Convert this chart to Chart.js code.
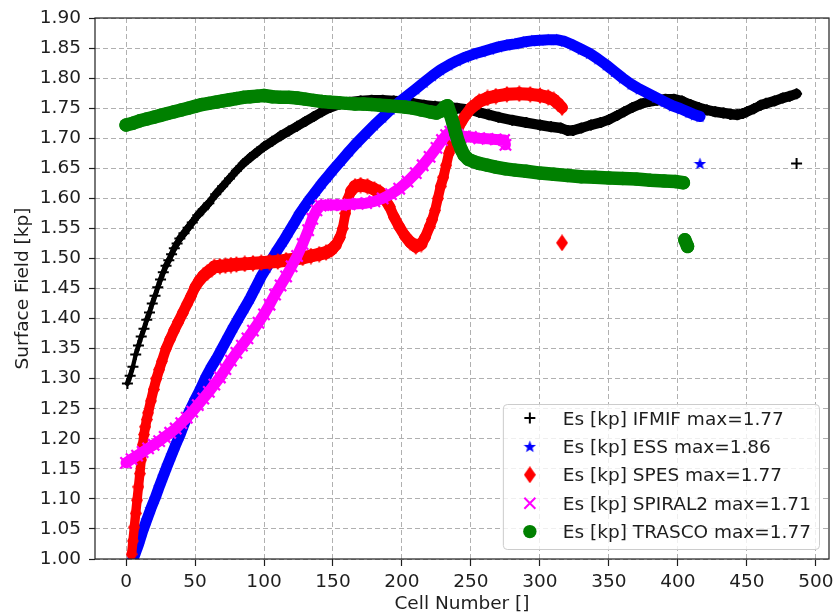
<!DOCTYPE html>
<html>
<head>
<meta charset="utf-8">
<title>Surface field per cell</title>
<script src="https://cdn.jsdelivr.net/npm/chart.js@4.4.1/dist/chart.umd.min.js"></script>
<style>
  html, body { margin: 0; padding: 0; background: #fff; }
  #wrap { width: 833px; height: 615px; }
</style>
</head>
<body>
<div id="wrap"><canvas id="es" width="833" height="615"></canvas></div>
<script>
// Surface field Es [kp] along the cells of five RFQ designs.

const X_TICKS = [0, 50, 100, 150, 200, 250, 300, 350, 400, 450, 500];
const Y_TICKS = [1.00, 1.05, 1.10, 1.15, 1.20, 1.25, 1.30, 1.35, 1.40, 1.45, 1.50,
                 1.55, 1.60, 1.65, 1.70, 1.75, 1.80, 1.85, 1.90];

const IFMIF_CELL = [1,3,5,7,9,11,13,15,17,19,21,23,25,27,29,31,33,35,37,39,42,45,48,52,56,60,65,70,75,80,
  85,90,95,100,106,112,118,124,130,136,142,148,155,162,170,178,186,194,200,208,216,224,232,240,250,256,263,270,280,290,
  300,308,315,320,324,330,337,344,350,356,361,367,373,379,385,391,397,403,409,415,421,427,433,438,443,447,450,455,460,464,
  470,476,481,486,486];
const IFMIF_ES = [1.292,1.305,1.32,1.34,1.355,1.37,1.383,1.398,1.41,1.425,1.438,1.452,1.465,1.477,1.488,1.497,1.507,1.517,1.525,1.533,
  1.542,1.551,1.56,1.572,1.582,1.592,1.607,1.62,1.633,1.646,1.658,1.668,1.677,1.686,1.695,1.704,1.712,1.72,1.728,1.736,
  1.744,1.751,1.757,1.76,1.762,1.763,1.763,1.762,1.761,1.758,1.755,1.753,1.752,1.75,1.747,1.743,1.739,1.735,1.73,1.726,
  1.722,1.719,1.717,1.713,1.713,1.717,1.722,1.726,1.731,1.738,1.744,1.751,1.757,1.761,1.763,1.765,1.765,1.762,1.756,1.751,
  1.747,1.744,1.742,1.74,1.739,1.741,1.744,1.749,1.755,1.758,1.762,1.767,1.77,1.774,1.658];

const ESS_CELL = [4,6,9,12,15,18,21,24,27,30,33,36,39,42,46,50,54,58,62,66,70,74,78,82,86,90,94,98,102,106,
  110,114,118,122,126,130,134,138,142,146,150,156,162,168,174,180,186,192,198,204,210,216,222,228,234,240,246,252,258,264,
  270,276,282,288,294,300,306,312,318,324,330,336,342,348,354,360,366,372,378,384,390,396,402,408,412,416,416];
const ESS_ES = [0.995,1.005,1.024,1.046,1.065,1.084,1.101,1.12,1.138,1.156,1.173,1.19,1.206,1.224,1.246,1.265,1.283,1.303,1.32,1.335,
  1.352,1.369,1.386,1.402,1.418,1.434,1.452,1.47,1.485,1.5,1.515,1.529,1.544,1.559,1.575,1.588,1.601,1.613,1.625,1.636,
  1.647,1.663,1.679,1.694,1.708,1.722,1.735,1.748,1.76,1.771,1.782,1.793,1.804,1.814,1.822,1.829,1.835,1.84,1.844,1.848,
  1.852,1.855,1.857,1.86,1.862,1.863,1.864,1.864,1.861,1.855,1.848,1.841,1.832,1.822,1.811,1.8,1.79,1.782,1.775,1.768,
  1.761,1.754,1.749,1.743,1.739,1.736,1.658];

const SPES_CELL = [4,5,6,7,8,9,10,11,12,13,14,15,16,18,20,22,24,26,29,32,35,38,41,44,47,50,53,56,59,62,
  64,68,72,76,80,86,92,98,104,110,116,122,128,134,140,145,149,152,155,157,159,161,163,166,170,175,180,184,188,191,
  194,198,202,206,210,214,217,220,222,224,226,228,230,232,234,237,240,243,246,250,256,262,268,276,285,293,300,306,310,313,
  316,316];
const SPES_ES = [1.008,1.03,1.053,1.076,1.098,1.12,1.142,1.165,1.19,1.207,1.22,1.232,1.243,1.263,1.282,1.3,1.315,1.329,1.35,1.366,
  1.381,1.395,1.409,1.423,1.437,1.452,1.463,1.471,1.477,1.482,1.486,1.487,1.488,1.489,1.49,1.491,1.492,1.493,1.494,1.495,
  1.497,1.499,1.501,1.504,1.507,1.51,1.515,1.522,1.535,1.55,1.575,1.6,1.612,1.62,1.622,1.62,1.615,1.61,1.597,1.586,
  1.57,1.553,1.538,1.527,1.52,1.524,1.536,1.553,1.565,1.58,1.6,1.62,1.635,1.655,1.675,1.695,1.712,1.727,1.738,1.75,
  1.761,1.767,1.77,1.773,1.774,1.773,1.771,1.768,1.764,1.758,1.751,1.526];

const SPIRAL2_CELL = [0,4,8,12,16,20,24,28,32,36,40,44,48,52,56,60,64,68,72,76,80,84,88,92,96,100,104,108,112,116,
  120,124,128,132,135,138,141,145,150,156,162,168,174,180,186,192,198,204,210,215,220,225,229,232,235,240,245,250,256,262,
  268,274,275];
const SPIRAL2_ES = [1.16,1.166,1.172,1.178,1.184,1.19,1.196,1.203,1.21,1.217,1.226,1.235,1.245,1.256,1.267,1.278,1.29,1.302,1.316,1.33,
  1.343,1.355,1.367,1.38,1.393,1.407,1.423,1.44,1.455,1.47,1.487,1.504,1.524,1.547,1.566,1.58,1.588,1.589,1.589,1.589,
  1.59,1.591,1.592,1.595,1.6,1.607,1.616,1.628,1.642,1.655,1.669,1.684,1.697,1.705,1.711,1.706,1.703,1.702,1.7,1.699,
  1.698,1.697,1.689];

const TRASCO_CELL = [0,5,10,15,20,25,30,35,40,45,50,55,60,65,70,75,80,85,90,95,100,106,112,118,124,130,136,142,148,154,
  160,166,172,178,184,190,196,202,208,214,220,225,228,231,233,235,237,239,241,243,245,248,252,256,262,268,275,282,290,300,
  310,320,330,340,350,360,370,380,390,398,404,405,407];
const TRASCO_ES = [1.722,1.725,1.729,1.732,1.735,1.738,1.741,1.744,1.747,1.75,1.753,1.756,1.758,1.76,1.762,1.764,1.766,1.768,1.769,1.77,
  1.771,1.769,1.768,1.768,1.767,1.765,1.763,1.761,1.76,1.759,1.758,1.757,1.757,1.756,1.755,1.754,1.753,1.752,1.75,1.747,
  1.744,1.742,1.745,1.752,1.754,1.74,1.725,1.708,1.693,1.681,1.672,1.665,1.661,1.658,1.655,1.652,1.649,1.647,1.645,1.642,
  1.64,1.638,1.636,1.635,1.634,1.633,1.632,1.63,1.629,1.628,1.626,1.531,1.52];

// ---- look ----
const FONT = { family: '"DejaVu Sans", sans-serif', size: 18.5 };
const INK = '#1e1e1e';
const GRID = '#b0b0b0';

// small sprites for the two marker shapes Chart.js has no built-in for
function starSprite(size, color) {
  const c = document.createElement('canvas');
  c.width = c.height = size;
  const g = c.getContext('2d');
  const R = size / 2, r = R * 0.42;
  g.beginPath();
  for (let i = 0; i < 10; i++) {
    const a = -Math.PI / 2 + i * Math.PI / 5;
    const rad = i % 2 ? r : R;
    g.lineTo(R + rad * Math.cos(a), R + 0.6 + rad * Math.sin(a));
  }
  g.closePath();
  g.fillStyle = color;
  g.fill();
  return c;
}

function diamondSprite(w, h, color) {
  const c = document.createElement('canvas');
  c.width = w; c.height = h;
  const g = c.getContext('2d');
  g.beginPath();
  g.moveTo(w / 2, 0); g.lineTo(w, h / 2); g.lineTo(w / 2, h); g.lineTo(0, h / 2);
  g.closePath();
  g.fillStyle = color;
  g.fill();
  return c;
}

const SERIES = [
  { name: 'IFMIF',   cells: IFMIF_CELL,   es: IFMIF_ES,   color: '#000000', marker: 'plus',    band: 8 },
  { name: 'ESS',     cells: ESS_CELL,     es: ESS_ES,     color: '#0000ff', marker: 'star',    band: 11 },
  { name: 'SPES',    cells: SPES_CELL,    es: SPES_ES,    color: '#ff0000', marker: 'diamond', band: 13 },
  { name: 'SPIRAL2', cells: SPIRAL2_CELL, es: SPIRAL2_ES, color: '#ff00ff', marker: 'x',       band: 11 },
  { name: 'TRASCO',  cells: TRASCO_CELL,  es: TRASCO_ES,  color: '#008000', marker: 'circle',  band: 13.5 },
];

const SPRITES = {
  star: starSprite(13, '#0000ff'),
  diamond: diamondSprite(12, 17, '#ff0000'),
};

function pointStyleOf(s) {
  switch (s.marker) {
    case 'plus': return { pointStyle: 'cross', pointRadius: 5.5, pointBorderWidth: 2 };
    case 'x': return { pointStyle: 'crossRot', pointRadius: 8, pointBorderWidth: 2.2 };
    case 'circle': return { pointStyle: 'circle', pointRadius: 6.7, pointBorderWidth: 0 };
    default: return { pointStyle: SPRITES[s.marker], pointRadius: 6, pointBorderWidth: 0 };
  }
}

// a jump in Es between neighbours marks a stray last cell: leave that gap open
const isJump = (c) => Math.abs(c.p1.parsed.y - c.p0.parsed.y) > 0.05;

// share of a segment that runs horizontally, in pixels
function flatness(c) {
  const dx = c.p1.x - c.p0.x, dy = c.p1.y - c.p0.y;
  return Math.abs(dx) / (Math.hypot(dx, dy) || 1);
}

// '+' markers stack into a thick band when flat and a thin ladder when steep;
// tall diamonds give a narrower band on the steep climb than on the flats
const BAND_WIDTH = {
  plus: (c) => 2.5 + 8 * flatness(c),
  diamond: (c) => 9 + 4 * flatness(c),
};

const datasets = SERIES.map((s, i) => ({
  label: `Es [kp] ${s.name} max=${Math.max(...s.es).toFixed(2)}`,
  data: s.cells.map((c, k) => ({ x: c, y: s.es[k] })),
  order: SERIES.length - i,
  showLine: true,
  clip: 0,
  borderColor: s.color,
  borderWidth: s.band,
  borderCapStyle: 'round',
  borderJoinStyle: 'round',
  pointBackgroundColor: s.color,
  pointBorderColor: s.color,
  ...pointStyleOf(s),
  segment: {
    borderColor: (c) => (isJump(c) ? 'rgba(0,0,0,0)' : undefined),
    borderWidth: BAND_WIDTH[s.marker],
  },
}));

function drawMarker(ctx, s, x, y) {
  ctx.save();
  ctx.strokeStyle = s.color;
  ctx.fillStyle = s.color;
  ctx.lineWidth = 2;
  if (s.marker === 'plus') {
    ctx.beginPath();
    ctx.moveTo(x - 5.5, y); ctx.lineTo(x + 5.5, y);
    ctx.moveTo(x, y - 5.5); ctx.lineTo(x, y + 5.5);
    ctx.stroke();
  } else if (s.marker === 'x') {
    ctx.beginPath();
    ctx.moveTo(x - 5.5, y - 5.5); ctx.lineTo(x + 5.5, y + 5.5);
    ctx.moveTo(x - 5.5, y + 5.5); ctx.lineTo(x + 5.5, y - 5.5);
    ctx.stroke();
  } else if (s.marker === 'circle') {
    ctx.beginPath();
    ctx.arc(x, y, 6.7, 0, Math.PI * 2);
    ctx.fill();
  } else {
    const img = SPRITES[s.marker];
    ctx.drawImage(img, x - img.width / 2, y - img.height / 2);
  }
  ctx.restore();
}

// axes frame on all four sides, drawn over the data
const frame = {
  id: 'frame',
  afterDatasetsDraw(chart) {
    const { ctx, chartArea: a } = chart;
    ctx.save();
    ctx.strokeStyle = INK;
    ctx.lineWidth = 1.2;
    ctx.strokeRect(a.left, a.top, a.right - a.left, a.bottom - a.top);
    ctx.restore();
  },
};

// legend boxed in the lower right corner of the plot
const cornerLegend = {
  id: 'cornerLegend',
  afterDraw(chart) {
    const { ctx, chartArea: a } = chart;
    const labels = chart.data.datasets.map((d) => d.label);
    const rowH = 28.4;
    ctx.save();
    ctx.font = `${FONT.size}px ${FONT.family}`;
    const textW = Math.max(...labels.map((t) => ctx.measureText(t).width));
    const w = 60 + textW + 8;
    const h = rowH * labels.length + 3;
    const x0 = a.right - 10 - w;
    const y0 = a.bottom - 10 - h;
    ctx.beginPath();
    ctx.roundRect(x0 + 0.5, y0 + 0.5, w, h, 4);
    ctx.fillStyle = 'rgba(255,255,255,0.8)';
    ctx.fill();
    ctx.strokeStyle = '#cccccc';
    ctx.lineWidth = 1;
    ctx.stroke();
    ctx.fillStyle = INK;
    ctx.textBaseline = 'alphabetic';
    ctx.textAlign = 'left';
    SERIES.forEach((s, i) => {
      const cy = y0 + 14 + i * rowH;
      drawMarker(ctx, s, x0 + 27, cy);
      ctx.fillText(labels[i], x0 + 60, cy + 6.5);
    });
    ctx.restore();
  },
};

const gridOpts = (tickLength) => ({
  color: GRID,
  lineWidth: 1,
  tickLength,
  tickColor: INK,
  tickWidth: 1.2,
  tickBorderDash: [],
});

new Chart(document.getElementById('es'), {
  type: 'scatter',
  data: { datasets },
  plugins: [frame, cornerLegend],
  options: {
    responsive: false,
    animation: false,
    devicePixelRatio: 1,
    events: [],
    layout: { padding: { top: 18, right: 4, bottom: 0, left: 0 }, autoPadding: false },
    plugins: { legend: { display: false }, tooltip: { enabled: false } },
    scales: {
      x: {
        type: 'linear',
        min: -22.5,
        max: 509.5,
        afterBuildTicks: (s) => { s.ticks = X_TICKS.map((v) => ({ value: v })); },
        afterFit: (s) => { s.height = 56; s.paddingLeft = 0; s.paddingRight = 0; },
        ticks: { font: FONT, color: INK, padding: 5, maxRotation: 0, autoSkip: false },
        grid: gridOpts(7),
        border: { display: false, dash: [5, 3] },
        title: { display: true, text: 'Cell Number []', font: FONT, color: INK, padding: { top: 0, bottom: 0 } },
      },
      y: {
        type: 'linear',
        min: 1.0,
        max: 1.9,
        afterBuildTicks: (s) => { s.ticks = Y_TICKS.map((v) => ({ value: v })); },
        afterFit: (s) => { s.width = 95; s.paddingTop = 0; s.paddingBottom = 0; },
        ticks: { font: FONT, color: INK, padding: 8, autoSkip: false, callback: (v) => Number(v).toFixed(2) },
        grid: gridOpts(6),
        border: { display: false, dash: [5, 3] },
        title: { display: true, text: 'Surface Field [kp]', font: FONT, color: INK, padding: { top: 12, bottom: 0 } },
      },
    },
  },
});
</script>
</body>
</html>
